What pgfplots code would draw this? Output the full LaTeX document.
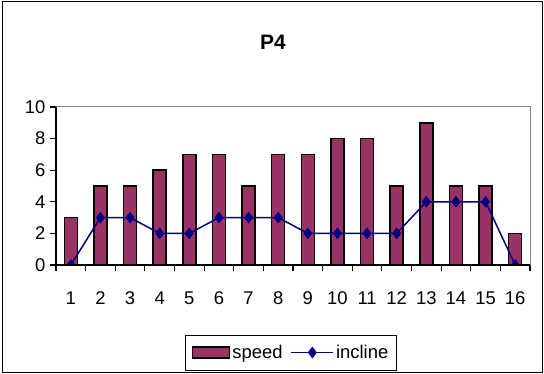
\documentclass[border=0pt]{standalone}
\usepackage{fontspec}
\setmainfont{Liberation Sans}
\usepackage{pgfplots}
\pgfplotsset{compat=1.18}
\usetikzlibrary{calc}
\definecolor{barc}{HTML}{993366}
\definecolor{navyc}{HTML}{000080}
\pgfplotsset{
  barlegend/.style={legend image code/.code={\draw[#1] (0bp,-5.5bp) rectangle (37bp,5.5bp);}},
  linelegend/.style={legend image code/.code={\draw[#1,mark repeat=2,mark phase=2] plot coordinates {(0bp,0bp) (21bp,0bp) (42bp,0bp)};}},
}
\begin{document}
\begin{tikzpicture}
\path (0bp,0bp) (544bp,374bp);
\draw[line width=1bp] (2bp,1.5bp) rectangle (542bp,372.5bp);
\node[font=\bfseries\fontsize{21}{24}\selectfont] at (273bp,332bp) {P4};
\begin{axis}[name=ax, at={(56bp,109bp)}, anchor=south west, scale only axis,
  width=474bp, height=158bp,
  xmin=0.5, xmax=16.5, ymin=0, ymax=10,
  separate axis lines,
  x axis line style={draw=none}, y axis line style={draw=none},
  axis x line*=bottom, axis y line*=left,
  xtick={0.5,1.5,...,16.5}, x tick label as interval,
  xticklabels={1,2,3,4,5,6,7,8,9,10,11,12,13,14,15,16},
  ytick={0,2,...,10},
  xtick style={draw=black, line width=1bp},
  ytick style={draw=black, line width=1bp},
  xtick align=outside, ytick align=outside, major tick length=6bp,
  /pgf/number format/assume math mode=true,
  tick label style={font=\fontsize{18.5}{22}\selectfont},
  xticklabel style={yshift=-17bp},
  yticklabel style={xshift=-1bp},
  legend columns=2,
  legend style={at={(0.496,-0.554)}, anchor=center, draw=black, line width=0.8bp,
    font=\fontsize{18.5}{22}\selectfont, inner xsep=6bp, inner ysep=8bp,
    /tikz/every even column/.append style={column sep=6bp}},
]
\addplot[ybar, bar width=13bp, fill=barc, draw=black, line width=1.5bp, barlegend]
  coordinates {(1,3) (2,5) (3,5) (4,6) (5,7) (6,7) (7,5) (8,7) (9,7) (10,8) (11,8) (12,5) (13,9) (14,5) (15,5) (16,2)};
\addlegendentry{speed}
\addplot[navyc, line width=1.5bp, mark=diamond*, mark size=5.5bp, mark options={fill=navyc, draw=navyc, line width=0.5bp}, linelegend, clip mode=individual, clip=false]
  coordinates {(1,0) (2,3) (3,3) (4,2) (5,2) (6,3) (7,3) (8,3) (9,2) (10,2) (11,2) (12,2) (13,4) (14,4) (15,4) (16,0)};
\addlegendentry{incline}
\end{axis}
\draw[gray, line width=1bp] (ax.north west) -- (ax.north east) -- (ax.south east);
\draw[black, line width=1.2bp] (ax.north west) -- (ax.south west) -- (ax.south east);
\foreach \i in {0,...,16} {\draw[black, line width=1.2bp] ($(56bp,109bp)+(\i*29.625bp,0)$) -- ++(0,-6bp);}
\foreach \j in {0,...,5} {\draw[black, line width=1.2bp] ($(56bp,109bp)+(0,\j*31.6bp)$) -- ++(-6bp,0);}
\end{tikzpicture}
\end{document}
